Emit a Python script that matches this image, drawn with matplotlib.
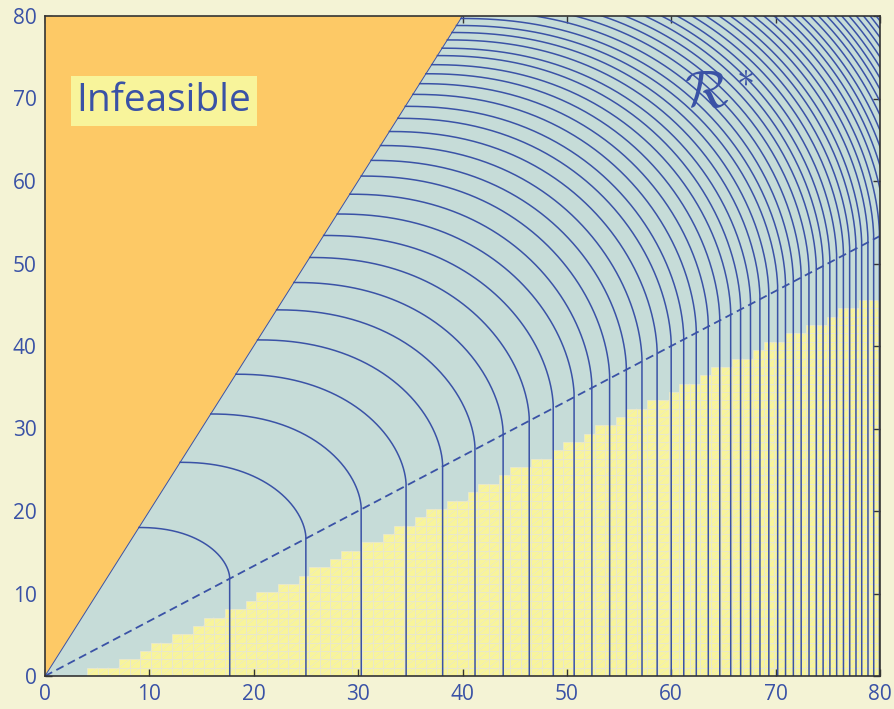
import numpy as np
import matplotlib.pyplot as plt
from matplotlib.collections import LineCollection, PolyCollection

# colours
FIG_BG = '#f4f3d5'
REGION_BG = '#c6dcd8'
ORANGE = '#fdc966'
YELLOW = '#f8f49b'
CELL_EDGE = '#e9e8cf'
BLUE = '#3a52a6'

# number of yellow cells stacked in each grid column (79 columns over 0..80)
col_heights = [0, 0, 0, 0, 1, 1, 1, 2, 2, 3, 4, 4, 5, 5, 6, 7, 7, 8, 8, 9,
               10, 10, 11, 11, 12, 13, 13, 14, 15, 15, 16, 16, 17, 18, 18, 19,
               20, 20, 21, 21, 22, 23, 23, 24, 25, 25, 26, 26, 27, 28, 28, 29,
               30, 30, 31, 32, 32, 33, 33, 34, 35, 35, 36, 37, 37, 38, 38, 39,
               40, 40, 41, 41, 42, 42, 43, 44, 44, 45, 45]

# level curves: where each one meets the x axis and where it meets y = 2x
x_axis_hits = [17.7, 25.0, 30.3, 34.6, 38.1, 41.2, 43.9, 46.4, 48.7, 50.7,
               52.4, 54.1, 55.7, 57.2, 58.65, 60.0, 61.2, 62.4, 63.55, 64.65,
               65.7, 66.65, 67.6, 68.5, 69.35, 70.2, 70.95, 71.7, 72.45, 73.2,
               73.9, 74.55, 75.2, 75.85, 76.5, 77.1, 77.7, 78.25, 78.85, 79.4,
               79.95, 80.5, 81.0, 81.5, 82.0, 82.5, 83.0, 83.45, 83.9, 84.35,
               84.8, 85.25, 85.7, 86.1, 86.5, 86.9]
edge_hits_y = [18.0, 25.9, 31.76, 36.58, 40.74, 44.38, 47.7, 50.73, 53.4, 56.0,
               58.4, 60.6, 62.5, 64.3, 66.0, 67.6, 69.05, 70.5, 71.8, 73.0,
               74.1, 75.2, 76.1, 77.1, 78.0, 78.85, 79.7, 80.6, 81.5, 82.3,
               83.1, 83.9, 84.6, 85.3, 86.0, 86.7, 87.4, 88.0, 88.7, 89.3,
               89.9, 90.5, 91.1, 91.7, 92.2, 92.8, 93.3, 93.9, 94.4, 94.9,
               95.4, 95.9, 96.4, 96.9, 97.3, 97.8]

split_slope = 2.0 / 3.0   # dashed line
bound_slope = 2.0         # feasibility boundary
p_exp, q_exp = 2.2, 1.8   # arc shape

fig = plt.figure(figsize=(8.94, 7.09), dpi=100, facecolor=FIG_BG)
ax = fig.add_axes([45 / 894, 33 / 709, 835 / 894, 660 / 709])
ax.set_facecolor(REGION_BG)
ax.set_xlim(0, 80)
ax.set_ylim(0, 80)

# yellow grid cells, each with its light outline and "/" diagonal
edges = np.linspace(0, 80, 80)
cells, diag = [], []
for i, h in enumerate(col_heights):
    for j in range(h):
        x0, x1, y0, y1 = edges[i], edges[i + 1], edges[j], edges[j + 1]
        cells.append([(x0, y0), (x1, y0), (x1, y1), (x0, y1)])
        diag.append([(x0, y0), (x1, y1)])
ax.add_collection(PolyCollection(cells, facecolors=YELLOW, edgecolors=CELL_EDGE,
                                 linewidths=0.6, zorder=1))
ax.add_collection(LineCollection(diag, colors=CELL_EDGE, linewidths=0.4, zorder=1.5))

# infeasible wedge
ax.fill([0, 40, 0], [0, 80, 80], color=ORANGE, lw=0, zorder=2)

# level curves: straight below the dashed line, quarter-arc up to y = 2x
theta = np.linspace(0, np.pi / 2, 200)
for x0, yt in zip(x_axis_hits, edge_hits_y):
    ya = split_slope * x0
    xb = yt / bound_slope
    a = x0 - xb
    b = yt - ya
    u = np.cos(theta) ** (2 / p_exp)
    v = np.sin(theta) ** (2 / q_exp)
    xs = np.concatenate([[x0], xb + a * u])
    ys = np.concatenate([[0], ya + b * v])
    ax.plot(xs, ys, color=BLUE, lw=1.1, zorder=3)

xx = np.array([0, 80])
ax.plot(xx, split_slope * xx, color=BLUE, lw=1.3, ls=(0, (4.5, 2.6)), zorder=4)
ax.plot([0, 40], [0, 80], color=BLUE, lw=0.7, zorder=4)

ax.text(11.4, 69.7, 'Infeasible', color=BLUE, fontsize=28, family='Open Sans',
        ha='center', va='center', zorder=5,
        bbox=dict(boxstyle='square,pad=0.15', fc=YELLOW, ec='none'))
plt.rcParams['mathtext.fontset'] = 'cm'
ax.text(64.6, 70.5, r'$\mathcal{R}^*$', color=BLUE, fontsize=37,
        ha='center', va='center', zorder=5)

ticks = np.arange(0, 81, 10)
ax.set_xticks(ticks)
ax.set_yticks(ticks)
ax.tick_params(direction='in', length=5, width=1, color='#333333',
               top=True, right=True, labelcolor=BLUE, labelsize=15, pad=6)
for lab in ax.get_xticklabels() + ax.get_yticklabels():
    lab.set_family('Open Sans')
for sp in ax.spines.values():
    sp.set_color('#333333')
    sp.set_linewidth(1.2)
    sp.set_zorder(6)

fig.savefig('out.png', dpi=100, facecolor=FIG_BG)
